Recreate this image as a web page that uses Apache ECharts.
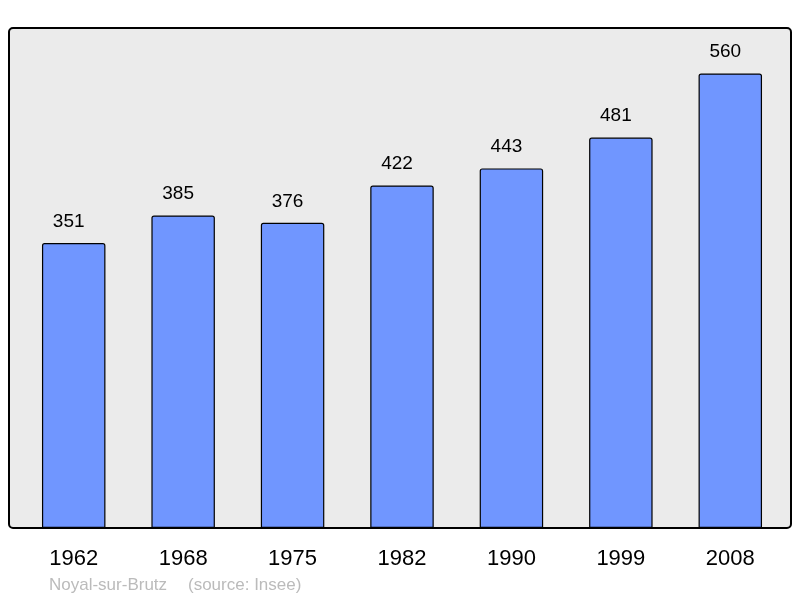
<!DOCTYPE html>
<html><head><meta charset="utf-8">
<script src="https://cdn.jsdelivr.net/npm/echarts@6/dist/echarts.min.js"></script>
<style>html,body{margin:0;padding:0;background:#fff}#c{width:800px;height:598px}</style>
</head><body><div id="c"></div>
<script>
var categories = ['1962','1968','1975','1982','1990','1999','2008'];
var population = [351, 385, 376, 422, 443, 481, 560];
var footerName = 'Noyal-sur-Brutz';
var footerSource = '(source: Insee)';

var chart = echarts.init(document.getElementById('c'), null, {renderer:'canvas'});
chart.setOption({
  animation:false,
  backgroundColor:'#ffffff',
  graphic:[
    {type:'rect', z:-10, shape:{x:9, y:28, width:782, height:500, r:4},
     style:{fill:'#ebebeb', stroke:'#000', lineWidth:2}},
    {type:'text', left:49, top:577, style:{text:footerName, fill:'#bbbbbb', font:'17px "Liberation Sans", Arial, sans-serif'}},
    {type:'text', left:188, top:577, style:{text:footerSource, fill:'#bbbbbb', font:'17px "Liberation Sans", Arial, sans-serif'}}
  ],
  grid:{left:19, right:15, top:28, bottom:70, containLabel:false},
  xAxis:{type:'category', data:categories, boundaryGap:true,
    axisLine:{show:false}, axisTick:{show:false},
    axisLabel:{color:'#000', fontSize:22, fontFamily:'"Liberation Sans", Arial, sans-serif', margin:20}},
  yAxis:{type:'value', min:0, max:616, show:false, splitLine:{show:false}},
  series:[{type:'bar', data:population, barWidth:'58%',
    itemStyle:{color:'#7096ff', borderColor:'#000', borderWidth:1.2, borderRadius:[2,2,0,0]},
    label:{show:true, position:'top', distance:12, offset:[-5,0], color:'#000', fontSize:19, fontFamily:'"Liberation Sans", Arial, sans-serif'}
  }]
});
</script></body></html>
